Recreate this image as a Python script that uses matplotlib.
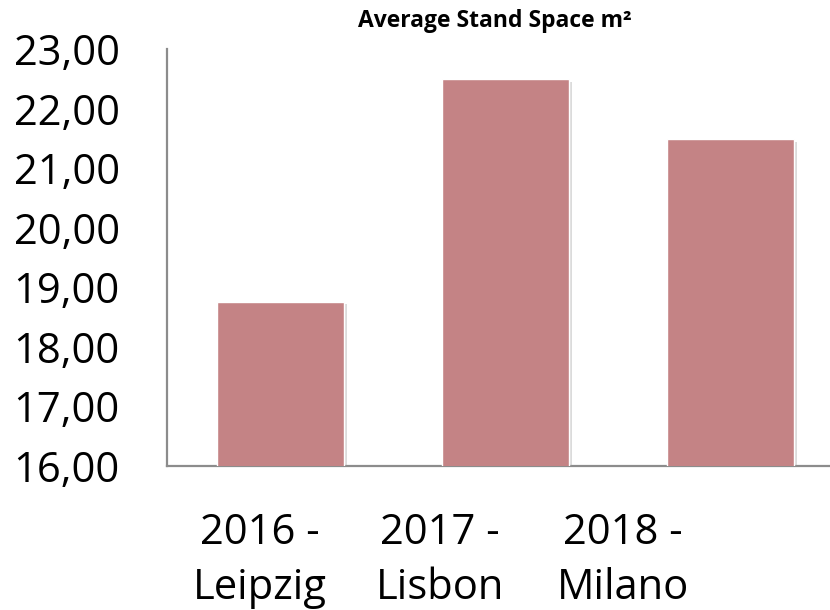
"""Average stand space bar chart."""

from matplotlib import pyplot as plt
from matplotlib import patheffects

plt.switch_backend("Agg")

categories = ["2016 -\nLeipzig", "2017 -\nLisbon", "2018 -\nMilano"]
values = [18.76, 22.49, 21.49]
y_ticks = [16, 17, 18, 19, 20, 21, 22, 23]
y_tick_labels = ["16,00", "17,00", "18,00", "19,00", "20,00", "21,00", "22,00", "23,00"]
title = "Average Stand Space m²"

BAR_COLOR = "#C48385"
AXIS_COLOR = "#8C8C8C"
FONT = "Open Sans"
# the category labels sit left of the bars in the original
LABEL_SHIFT = [-0.09, -0.29, -0.48]

fig = plt.figure(figsize=(8.3, 6.1), dpi=100)
ax = fig.add_axes([0.2012, 0.236, 0.7988, 0.6837])

xs = list(range(len(values)))
ax.bar(
    xs, values, width=0.565, bottom=0, color=BAR_COLOR, edgecolor="white", linewidth=1.0,
    path_effects=[patheffects.SimplePatchShadow(offset=(2, -2), shadow_rgbFace="#9a9a9a", alpha=0.35),
                  patheffects.Normal()],
    zorder=3,
)

ax.set_ylim(16, 23)
ax.set_xlim(-0.504, 2.442)
ax.set_yticks(y_ticks)
ax.set_yticklabels(y_tick_labels, fontsize=30, family=FONT)
ax.tick_params(axis="y", length=0, pad=34)

ax.set_xticks([x + s for x, s in zip(xs, LABEL_SHIFT)])
ax.set_xticklabels(categories, fontsize=30, family=FONT, linespacing=1.42)
ax.tick_params(axis="x", length=0, pad=33)

for side in ("top", "right"):
    ax.spines[side].set_visible(False)
for side in ("left", "bottom"):
    ax.spines[side].set_color(AXIS_COLOR)
    ax.spines[side].set_linewidth(1.6)

fig.text(0.596, 0.966, title, ha="center", va="center", fontsize=16.5, fontweight="bold", family=FONT)

fig.savefig("out.png", dpi=100)
plt.close(fig)
